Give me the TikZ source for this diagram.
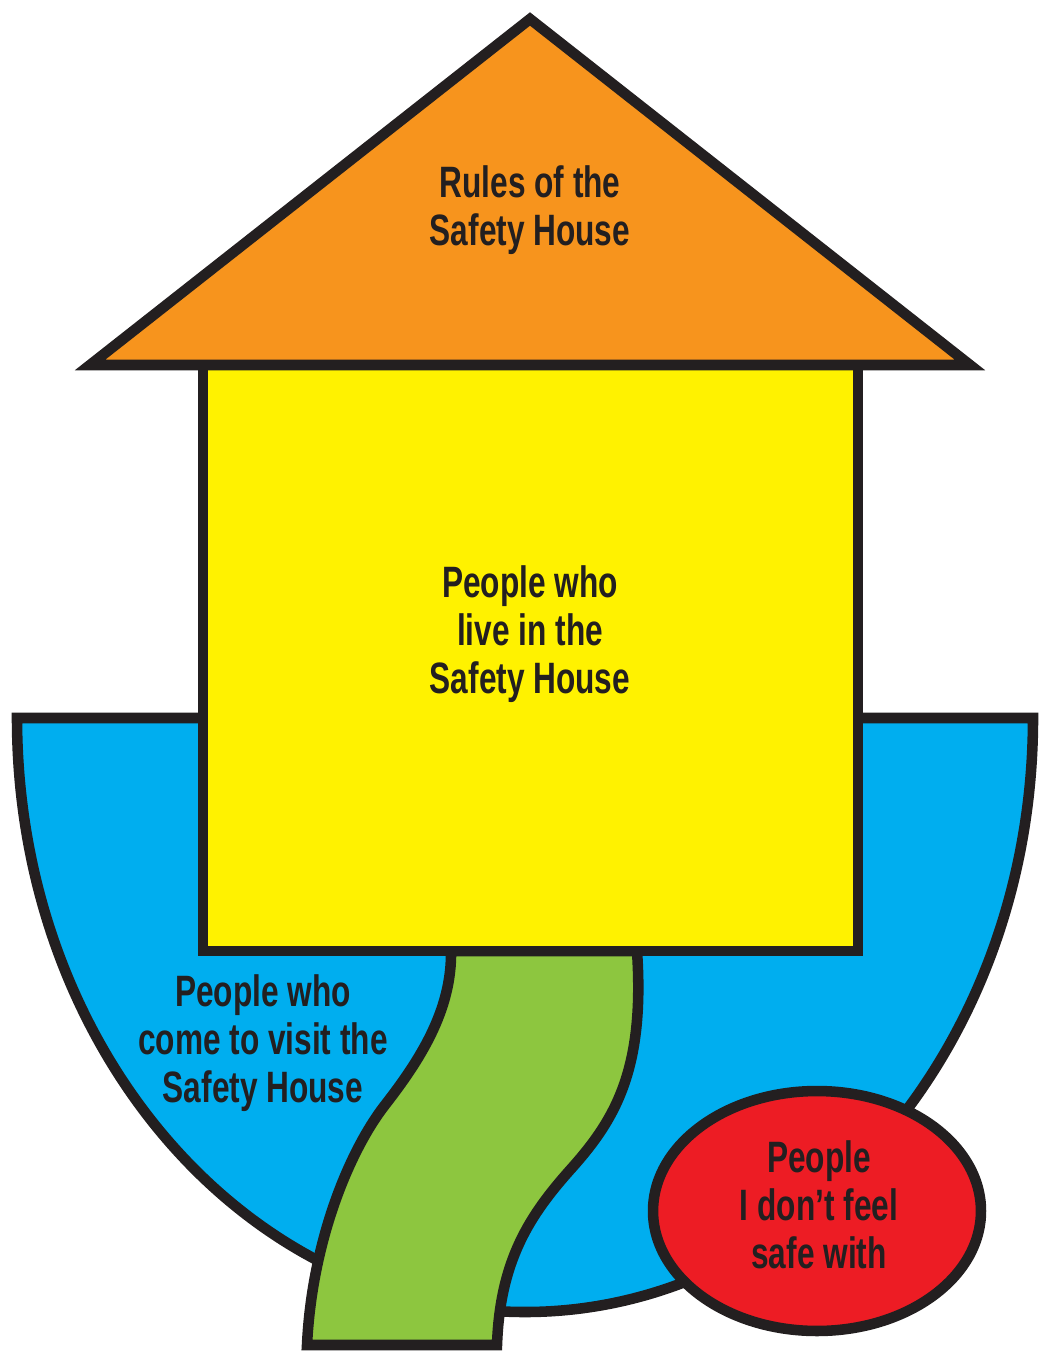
\documentclass[tikz,border=0pt]{standalone}
\usepackage{fontspec}
\setmainfont{Liberation Sans}[FakeStretch=0.72]
\usetikzlibrary{shapes.geometric}
\definecolor{ink}{HTML}{231F20}
\definecolor{roof}{HTML}{F7941D}
\definecolor{sun}{HTML}{FFF200}
\definecolor{skyblue}{HTML}{00AEEF}
\definecolor{grass}{HTML}{8DC63F}
\definecolor{danger}{HTML}{ED1C24}
\begin{document}
\begin{tikzpicture}[x=0.02cm, y=-0.02cm, line width=6pt, draw=ink,
	lbl/.style={font=\bfseries\fontsize{25}{27.2}\selectfont, text=ink, align=center, inner sep=0pt}]
	\useasboundingbox (0,0) rectangle (1040,1351);
	% visitors
	\draw[fill=skyblue] (17,718)--(1033,718) arc[start angle=0, end angle=180, x radius=508, y radius=594]--cycle;
	% the path
	\draw[fill=grass] (451,951) .. controls (452,1010) and (420,1060) .. (385,1105)
		.. controls (350,1150) and (312,1240) .. (307,1345)--(497,1345)
		.. controls (500,1260) and (530,1215) .. (570,1170)
		.. controls (615,1120) and (645,1070) .. (637,951)--cycle;
	% house
	\draw[fill=sun] (203,365) rectangle (858,951);
	\draw[fill=roof] (90,365)--(530,19)--(970,365)--cycle;
	\node[lbl] (rules) at (530,210) {Rules of the\\Safety House};
	\node[lbl] (live) at (530,634) {People who\\live in the\\Safety House};
	\node[lbl] (visit) at (263,1043) {People who\\come to visit the\\Safety House};
	\node[ellipse, draw, fill=danger, minimum width=6.56cm, minimum height=4.8cm, inner sep=0pt] (unsafe) at (817,1211) {};
	\node[lbl] (unsafetext) at (819,1205) {People\\I don’t feel\\safe with};
\end{tikzpicture}
\end{document}
